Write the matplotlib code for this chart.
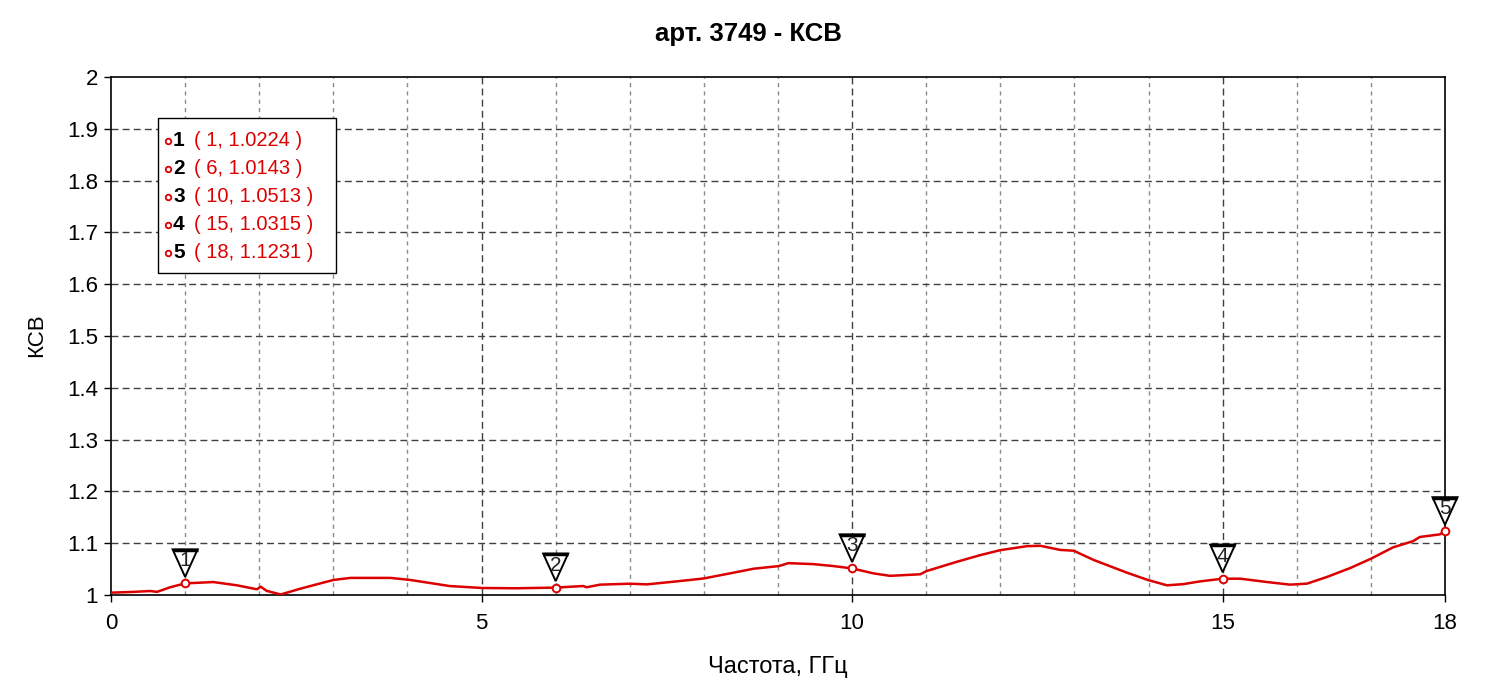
import matplotlib
matplotlib.use("Agg")
import matplotlib.pyplot as plt
import matplotlib.transforms as mtransforms
from matplotlib.patches import Polygon, Rectangle

plt.rcParams['font.family'] = ['Liberation Sans', 'DejaVu Sans']

title = "арт. 3749 - КСВ"
xlabel = "Частота, ГГц"
ylabel = "КСВ"

freq = [0, 0.3, 0.53, 0.62, 0.8, 1.0, 1.38, 1.70, 1.97, 2.02, 2.1, 2.29, 2.55,
        3.0, 3.23, 3.77, 4.04, 4.57, 5.01, 5.47, 6.0, 6.37, 6.42, 6.6, 7.0,
        7.23, 7.68, 8.0, 8.35, 8.67, 9.01, 9.14, 9.48, 9.75, 10.0, 10.29,
        10.51, 10.92, 11.0, 11.41, 11.73, 12.0, 12.36, 12.54, 12.81, 12.99,
        13.26, 13.71, 13.99, 14.25, 14.47, 14.7, 15.0, 15.24, 15.6, 15.91,
        16.14, 16.41, 16.72, 17.0, 17.3, 17.57, 17.66, 17.93, 18.0]
vswr = [1.0045, 1.006, 1.0077, 1.006, 1.015, 1.0224, 1.025, 1.0187, 1.011,
        1.016, 1.008, 1.001, 1.012, 1.029, 1.033, 1.033, 1.029, 1.0173,
        1.0135, 1.013, 1.0143, 1.0173, 1.015, 1.020, 1.0218, 1.0205, 1.027,
        1.032, 1.0417, 1.0507, 1.0558, 1.0615, 1.0596, 1.0558, 1.0513,
        1.0417, 1.037, 1.040, 1.046, 1.064, 1.077, 1.0866, 1.0943, 1.095,
        1.087, 1.0855, 1.0676, 1.043, 1.029, 1.0187, 1.021, 1.0264, 1.0315,
        1.0315, 1.025, 1.020, 1.022, 1.035, 1.052, 1.070, 1.092, 1.104,
        1.112, 1.117, 1.1231]

marker_ids = ["1", "2", "3", "4", "5"]
marker_x = [1, 6, 10, 15, 18]
marker_y = [1.0224, 1.0143, 1.0513, 1.0315, 1.1231]
marker_labels = ["( 1, 1.0224 )", "( 6, 1.0143 )", "( 10, 1.0513 )",
                 "( 15, 1.0315 )", "( 18, 1.1231 )"]

xticks = [0, 5, 10, 15, 18]
xtick_labels = ["0", "5", "10", "15", "18"]
xminor = [1, 2, 3, 4, 6, 7, 8, 9, 11, 12, 13, 14, 16, 17]
yticks = [1.0, 1.1, 1.2, 1.3, 1.4, 1.5, 1.6, 1.7, 1.8, 1.9, 2.0]
ytick_labels = ["1", "1.1", "1.2", "1.3", "1.4", "1.5", "1.6", "1.7", "1.8", "1.9", "2"]

RED = '#dd0000'
W, H = 1500, 700
fig = plt.figure(figsize=(15, 7), dpi=100)
ax = fig.add_axes([111 / W, 1 - 595 / H, 1334 / W, 518 / H])
ax.set_xlim(0, 18)
ax.set_ylim(1, 2)

# grid
for xv in xminor:
    ax.axvline(xv, color='#8a8a8a', lw=1.0, ls=(0, (3, 3)), zorder=0)
for xv in xticks[1:-1]:
    ax.axvline(xv, color='#404040', lw=1.0, ls=(0, (5, 3)), zorder=0)
for yv in yticks[1:-1]:
    ax.axhline(yv, color='#404040', lw=1.0, ls=(0, (5, 3)), zorder=0)

ax.plot(freq, vswr, color=RED, lw=1.8, zorder=3)
ax.plot(marker_x, marker_y, 'o', ms=5.5, mfc='white', mec=RED, mew=1.4, zorder=4,
        clip_on=False)

# triangle flags
for mid, mx, my in zip(marker_ids, marker_x, marker_y):
    tr = fig.dpi_scale_trans + mtransforms.ScaledTranslation(mx, my, ax.transData)
    tri = Polygon([(-0.125, 0.34), (0.125, 0.34), (0.0, 0.065)], closed=True,
                  fc='white', ec='black', lw=1.4, transform=tr, zorder=5, clip_on=False)
    ax.add_patch(tri)
    ax.plot([-0.125, 0.125], [0.335, 0.335], color='black', lw=2.5, transform=tr,
            zorder=6, clip_on=False, solid_capstyle='butt')
    ax.text(0, 0.225, mid, transform=tr, ha='center', va='center', fontsize=15,
            color='#222222', zorder=7, clip_on=False)

ax.set_xticks(xticks)
ax.set_xticklabels(xtick_labels, fontsize=16)
ax.set_yticks(yticks)
ax.set_yticklabels(ytick_labels, fontsize=16)
ax.tick_params(axis='both', direction='out', length=5, width=1)
ax.tick_params(axis='x', pad=8)
ax.tick_params(axis='y', pad=4.3)
for s in ax.spines.values():
    s.set_linewidth(1.2)

fig.text(778 / W, 1 - 667 / H, xlabel, ha='center', va='center', fontsize=17)
fig.text(37 / W, 1 - 335 / H, ylabel, ha='center', va='center', fontsize=16,
         rotation=90)
fig.text(748 / W, 1 - 34 / H, title, ha='center', va='center', fontsize=18.5,
         fontweight='bold')

# legend box
lx0, ly0, lx1, ly1 = 158, 118, 336, 273
fig.patches.append(Rectangle((lx0 / W, 1 - ly1 / H), (lx1 - lx0) / W, (ly1 - ly0) / H,
                             transform=fig.transFigure, fc='white', ec='black',
                             lw=1.0, zorder=10))
for i, (mid, lab) in enumerate(zip(marker_ids, marker_labels)):
    yy = 1 - (141 + 28 * i) / H
    fig.lines.append(plt.Line2D([168 / W], [yy], marker='o', ms=4, mfc='white',
                                mec=RED, mew=1.3, transform=fig.transFigure, zorder=11))
    fig.text(173 / W, yy, mid, ha='left', va='center', fontsize=15,
             fontweight='bold', color='black', zorder=11)
    fig.text(194 / W, yy, lab, ha='left', va='center', fontsize=14.5,
             color=RED, zorder=11)

fig.savefig("out.png", dpi=100)
